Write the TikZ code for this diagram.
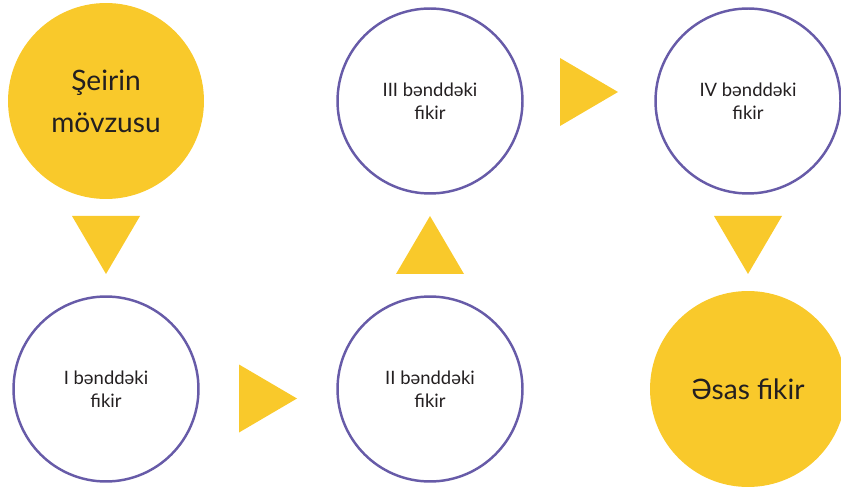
\documentclass[tikz,border=0pt]{standalone}
\usepackage{fontspec}
\setmainfont{Lato}
\usepackage{tikz}
\usetikzlibrary{calc}
\definecolor{sunyellow}{HTML}{F9C92B}
\definecolor{ringviolet}{HTML}{675BA8}
\definecolor{inkdark}{HTML}{231F20}

\tikzset{
    idea/.style={circle, draw=ringviolet, line width=1.4pt, fill=white, minimum size=3.7cm,
        inner sep=0pt, align=center, text=inkdark, font=\fontsize{10.5}{13}\selectfont},
    goal/.style={circle, fill=sunyellow, minimum size=3.92cm, inner sep=0pt,
        align=center, text=inkdark, font=\fontsize{16}{24}\selectfont},
    pointer/.style={fill=sunyellow}
}

\begin{document}
\begin{tikzpicture}[x=0.02cm, y=-0.02cm]
        \useasboundingbox (0,0) rectangle (841,489);
        % Circles
        \node[goal] (topic) at (106,101) {Şeirin\\mövzusu};
        \node[idea] (one) at (106,389) {I bənddəki\\fikir};
        \node[idea] (two) at (430,389) {II bənddəki\\fikir};
        \node[idea] (three) at (430,101) {III bənddəki\\fikir};
        \node[idea] (four) at (748,101) {IV bənddəki\\fikir};
        \node[goal] (main) at (748,389) {Əsas fikir};
        % Triangles between circles
        \foreach \from/\to/\rot/\dy in {topic/one/0/0, one/two/90/9.5, two/three/180/0, three/four/90/-9, four/main/0/0} {
            \fill[pointer, shift={($(\from)!0.5!(\to)+(0,\dy)$)}, rotate=\rot] (-34,-29) -- (34,-29) -- (0,29) -- cycle;
        }
\end{tikzpicture}
\end{document}
